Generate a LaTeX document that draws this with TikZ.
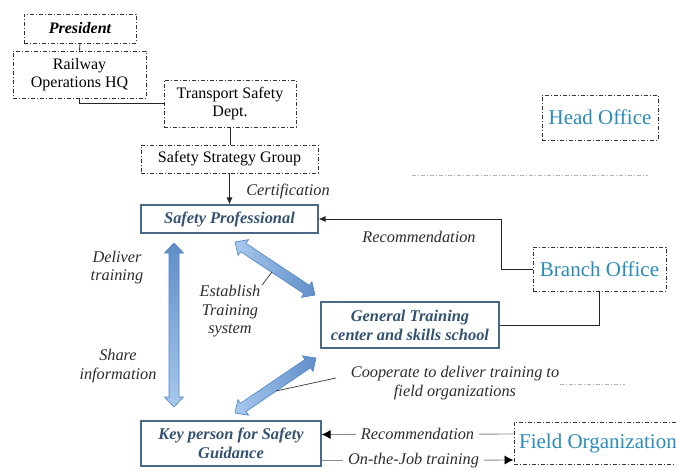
\documentclass[tikz,border=0pt]{standalone}
\usepackage{fontspec}
\setmainfont{Liberation Serif}
\usetikzlibrary{arrows.meta,calc}
\definecolor{boxtxt}{RGB}{52,82,112}
\definecolor{boxline}{RGB}{72,106,134}
\definecolor{officeblue}{RGB}{42,140,186}
\definecolor{arrdark}{RGB}{96,142,200}
\definecolor{arrlight}{RGB}{168,200,238}
\definecolor{arredge}{RGB}{78,132,198}
\definecolor{labtxt}{RGB}{45,45,45}
\tikzset{
  dd/.style={draw=black!80, line width=0.8pt, dash pattern=on 4pt off 2pt on 1pt off 2pt},
  orgbox/.style={dd, inner sep=0pt, align=center, font=\fontsize{16}{18}\selectfont},
  officebox/.style={dd, inner sep=0pt, align=center, text=officeblue, font=\fontsize{21}{24}\selectfont},
  rolebox/.style={draw=boxline, line width=1.1pt, inner sep=0pt, align=center, text=boxtxt,
    font=\fontsize{16.4}{19}\selectfont\bfseries\itshape},
  lab/.style={text=labtxt, align=center, inner sep=1pt, font=\fontsize{16.3}{18.5}\selectfont\itshape},
  conn/.style={draw=black!85, line width=0.8pt},
  gconn/.style={draw=black!45, line width=0.9pt},
  faint/.style={draw=black!30, line width=0.7pt, dash pattern=on 4pt off 2pt on 1pt off 2pt},
  bigarrow/.style={draw=arredge, line width=0.6pt, line join=miter}
}
% #1, #2: tip coordinates; #3: shading options
\newcommand\bigdbl[3]{%
  \coordinate (#1h) at ($(#1)!10pt!(#2)$);
  \coordinate (#2h) at ($(#2)!10pt!(#1)$);
  \path[bigarrow, #3] (#1) -- ($(#1h)!9.5pt!90:(#2)$) -- ($(#1h)!5pt!90:(#2)$)
    -- ($(#2h)!5pt!-90:(#1)$) -- ($(#2h)!9.5pt!-90:(#1)$) -- (#2)
    -- ($(#2h)!9.5pt!90:(#1)$) -- ($(#2h)!5pt!90:(#1)$)
    -- ($(#1h)!5pt!-90:(#2)$) -- ($(#1h)!9.5pt!-90:(#2)$) -- cycle;}
\begin{document}
\begin{tikzpicture}[x=1pt,y=-1pt]
\fill[white] (0,0) rectangle (676,469);
\useasboundingbox (0,0) rectangle (676,469);

% top hierarchy
\node[orgbox, minimum width=112pt, minimum height=29pt, font=\fontsize{16}{18}\selectfont\bfseries\itshape] (pres) at (80,28.5) {President};
\node[orgbox, minimum width=133pt, minimum height=47pt] (rohq) at (79.5,74.5) {Railway\\Operations HQ};
\node[orgbox, minimum width=132pt, minimum height=47pt] (tsd) at (230,103.5) {Transport Safety\\Dept.};
\node[orgbox, minimum width=177pt, minimum height=28pt] (ssg) at (229.5,159) {Safety Strategy Group};

% offices
\node[officebox, minimum width=116pt, minimum height=45pt] (head) at (600,117.5) {Head Office};
\node[officebox, minimum width=133pt, minimum height=44pt] (branch) at (599.5,269) {Branch Office};
\node[officebox, minimum width=168pt, minimum height=42pt, anchor=west] (field) at (513.5,443) {Field Organization};

% roles
\node[rolebox, minimum width=177pt, minimum height=28pt] (sp) at (229.5,219) {Safety Professional};
\node[rolebox, minimum width=178pt, minimum height=46pt] (gtc) at (410,325) {General Training\\center and skills school};
\node[rolebox, minimum width=180pt, minimum height=45pt] (kp) at (231,443.5) {Key person for Safety\\Guidance};

% connectors
\draw[conn] (pres.south) -- (rohq.north);
\draw[conn] (rohq.south) |- (tsd.west);
\draw[conn] (tsd.south) -- (tsd.south |- ssg.north);
\draw[conn, -{Latex[length=7pt,width=6pt]}] (ssg.south) -- (sp.north);
\draw[conn, -{Latex[length=7pt,width=6pt]}] (branch.west) -- ++(-31,0) |- (sp.east);
\draw[conn] (branch.south) |- (gtc.east);
\draw[gconn, -{Latex[length=9pt,width=9pt,color=black]}] ([yshift=9pt]field.west) -- ([yshift=9pt]kp.east)
  node[midway, lab, fill=white, inner xsep=5pt] {Recommendation};
\draw[gconn, -{Latex[length=9pt,width=9pt,color=black]}] ([yshift=-17pt]kp.east) -- ([yshift=-17pt]field.west)
  node[midway, lab, fill=white, inner xsep=5pt, xshift=-4pt] {On-the-Job training};

% labels
\node[lab] (cert) at (288,191) {Certification};
\node[lab] (rec) at (419,237) {Recommendation};
\node[lab] (deliv) at (117,267.5) {Deliver\\training};
\node[lab] (share) at (118,366) {Share\\information};
\node[lab] (estab) at (230,311.5) {Establish\\Training\\system};
\node[lab] (coop) at (455,383) {Cooperate to deliver training to\\field organizations};

% big double arrows
\coordinate (v1) at (174,243);
\coordinate (v2) at (174,407);
\coordinate (d1a) at (235,242);
\coordinate (d1b) at (315,295);
\coordinate (d2a) at (235,413);
\coordinate (d2b) at (316,358);
\bigdbl{v1}{v2}{top color=arrdark, bottom color=arrlight}
\bigdbl{d1a}{d1b}{left color=arrlight, right color=arrdark}
\bigdbl{d2a}{d2b}{left color=arrlight, right color=arrdark}

% pointer lines from labels
\coordinate (e1) at (262,285);
\coordinate (e2) at (272,272);
\draw[black!80, line width=0.7pt] (e1) -- (e2);
\coordinate (c1) at (336,378);
\coordinate (c2) at (276,391);
\draw[black!80, line width=0.7pt] (c1) -- (c2);

% faint dash-dot separators
\coordinate (s1) at (412,175.5);
\coordinate (s2) at (648,175.5);
\draw[faint] (s1) -- (s2);
\coordinate (t1) at (560,384);
\coordinate (t2) at (625,384);
\draw[faint] (t1) -- (t2);
\end{tikzpicture}
\end{document}
